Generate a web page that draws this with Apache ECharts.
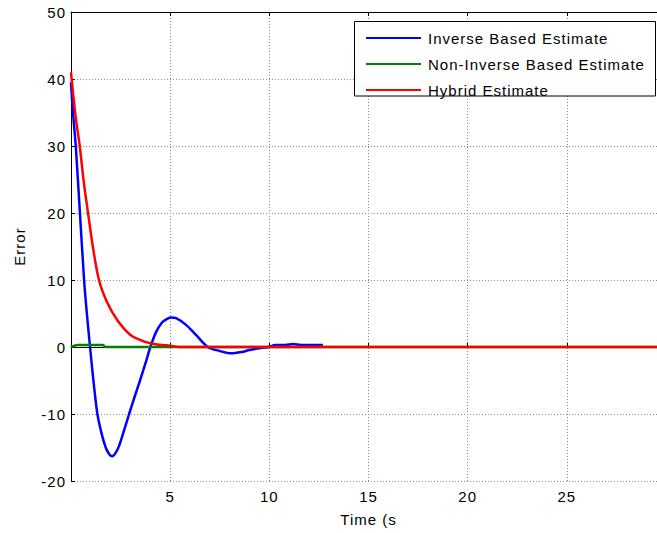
<!DOCTYPE html>
<html><head><meta charset="utf-8">
<script src="https://cdn.jsdelivr.net/npm/echarts@6/dist/echarts.min.js"></script>
<style>
html,body{margin:0;padding:0;background:#fff;}
#c{width:657px;height:533px;}
#c text{letter-spacing:1px;}
</style></head><body><div id="c"></div>
<script>
// Inverse Based Estimate
const blueT = [0, 0.1, 0.24, 0.45, 0.66, 0.8, 0.96, 1.13, 1.33, 1.55, 1.75, 1.93, 2.08, 2.25, 2.42, 2.67, 2.93, 3.2, 3.48, 3.8, 4.0, 4.3, 4.6, 4.85, 5.05, 5.3, 5.8, 6.3, 6.9, 7.5, 8.07, 8.6, 9.0, 9.5, 9.95, 10.3, 10.8, 11.2, 11.6, 12.2, 12.7];
const blueV = [39.5, 35, 30, 20, 10, 5, 0, -5, -10, -13, -15, -16, -16.3, -15.8, -14.8, -12.5, -10, -7.5, -5, -2, 0, 2.3, 3.7, 4.2, 4.4, 4.3, 3.3, 1.8, 0, -0.6, -0.95, -0.75, -0.45, -0.2, 0, 0.3, 0.3, 0.45, 0.3, 0.3, 0.3];
// Non-Inverse Based Estimate
const greenT = [0, 0.35, 1.6, 1.75, 30];
const greenV = [0, 0.3, 0.3, 0, 0];
// Hybrid Estimate
const redT = [0, 0.1, 0.25, 0.44, 0.65, 0.86, 1.1, 1.41, 1.83, 2.34, 3.0, 3.7, 4.2, 4.6, 5.0, 5.3, 6, 30];
const redV = [41, 38, 34, 30, 24.5, 20, 15, 10, 6.6, 4.0, 1.8, 0.8, 0.45, 0.3, 0.2, 0.05, 0, 0];

const seriesNames = ['Inverse Based Estimate', 'Non-Inverse Based Estimate', 'Hybrid Estimate'];
const xTicks = {min: 0, max: 30, interval: 5};
const yTicks = {min: -20, max: 50, interval: 10};

const pairs = (t, v) => t.map((x, i) => [x, v[i]]);
const FONT = "'Liberation Sans', Arial, sans-serif";

const chart = echarts.init(document.getElementById('c'), null, {renderer: 'svg'});
const gridLine = {show: true, lineStyle: {color: '#8a8a8a', type: [1, 2], width: 1}};
const mkSeries = (i, t, v, color) => ({
  name: seriesNames[i], type: 'line', symbol: 'none', smooth: 0.3,
  data: pairs(t, v), lineStyle: {color: color, width: 2.5}, itemStyle: {color: color}
});
chart.setOption({
  animation: false,
  backgroundColor: '#fff',
  grid: {left: 71, top: 12, right: -9, bottom: 52, outerBoundsMode: 'none'},
  xAxis: [{
    type: 'value', min: xTicks.min, max: xTicks.max, interval: xTicks.interval,
    position: 'bottom',
    name: 'Time (s', nameLocation: 'middle', nameGap: 31,
    nameTextStyle: {color: '#000', fontSize: 15, fontFamily: FONT},
    axisLine: {show: true, lineStyle: {color: '#000', width: 1}},
    axisTick: {show: true, inside: true, length: 4, lineStyle: {color: '#000'}},
    axisLabel: {color: '#000', fontSize: 15, fontFamily: FONT, margin: 8, showMinLabel: false, showMaxLabel: false},
    splitLine: gridLine
  }, {
    type: 'value', min: xTicks.min, max: xTicks.max, interval: xTicks.interval,
    position: 'top',
    axisLine: {show: true, lineStyle: {color: '#000', width: 1}},
    axisTick: {show: true, inside: true, length: 4, lineStyle: {color: '#000'}},
    axisLabel: {show: false},
    splitLine: {show: false}
  }],
  yAxis: {
    type: 'value', min: yTicks.min, max: yTicks.max, interval: yTicks.interval,
    name: 'Error', nameLocation: 'middle', nameGap: 44,
    nameTextStyle: {color: '#000', fontSize: 15, fontFamily: FONT},
    axisLine: {show: true, lineStyle: {color: '#000', width: 1}},
    axisTick: {show: true, inside: true, length: 4, lineStyle: {color: '#000'}},
    axisLabel: {color: '#000', fontSize: 15, fontFamily: FONT, margin: 5},
    splitLine: gridLine
  },
  graphic: [{
    type: 'rect', z: 50, silent: true,
    shape: {x: 354.5, y: 21.5, width: 301, height: 74.5},
    style: {fill: '#fff', stroke: '#000', lineWidth: 1}
  }],
  legend: {
    z: 60, orient: 'vertical', left: 365, top: 30.5, padding: 0,
    itemWidth: 55, itemHeight: 13, itemGap: 11,
    itemStyle: {opacity: 0},
    textStyle: {color: '#000', fontSize: 15, lineHeight: 13, fontFamily: FONT, padding: [0, 0, 0, 2]},
    data: seriesNames
  },
  series: [
    mkSeries(0, blueT, blueV, '#0000ff'),
    mkSeries(1, greenT, greenV, '#008000'),
    mkSeries(2, redT, redV, '#ff0000')
  ]
});
</script></body></html>
